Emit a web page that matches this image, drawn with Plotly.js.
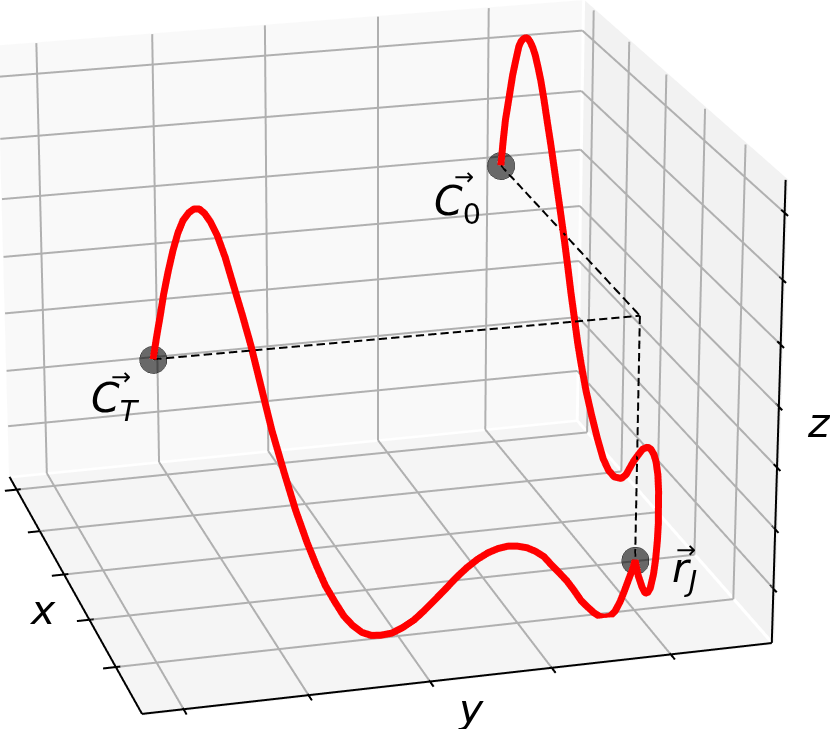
<!DOCTYPE html>
<html><head><meta charset="utf-8">
<script src="https://cdn.plot.ly/plotly-3.0.1.min.js"></script>
<style>html,body{margin:0;padding:0;width:830px;height:729px;overflow:hidden;background:#fff}
#gd{position:absolute}</style></head>
<body><div id="gd"></div>
<script>
const seg1Y=[.064,.067,.071,.076,.082,.089,.097,.105,.113,.122,.130,.138,.146,.155,.165,.177,.189,.202,.215,.230,.247,.266,.283,.301,.316,.330,.345,.359,.373,.388,.403,.418,.436,.454,.472,.488,.504,.520,.538,.556,.574,.591,.607,.623,.638,.654,.668,.682,.693,.706,.719,.731,.744,.755,.765,.775,.783,.792,.800,.808,.815,.823,.828,.8316];
const seg1Z=[.662,.685,.716,.752,.798,.842,.886,.922,.947,.962,.969,.968,.958,.939,.910,.862,.803,.740,.673,.585,.485,.390,.309,.235,.181,.135,.097,.064,.041,.023,.014,.012,.014,.024,.038,.056,.076,.096,.120,.141,.158,.170,.177,.180,.178,.172,.162,.148,.130,.110,.090,.067,.040,.024,.010,.000,-.003,-.002,.008,.028,.052,.082,.100,.118];
const seg2X=[.847,.866,.880,.892,.906,.920,.929,.935,.938,.937,.936,.931,.921,.910,.895,.879,.856,.836,.813,.795,.778,.754,.719,.690,.662,.630,.597,.568,.543,.521,.502,.482,.464,.444,.424,.404,.383,.364,.344,.325,.307,.291,.275,.261,.247,.234,.221,.208,.196,.184,.168,.151,.133,.113,.101,.089];
const seg2Z=[.0922,.0777,.0724,.0773,.0964,.1347,.1742,.2157,.2553,.2898,.3264,.36,.3834,.3938,.398,.3942,.3783,.3563,.3302,.306,.283,.262,.248,.248,.26,.291,.33,.3684,.4114,.4544,.5014,.5494,.5983,.65,.697,.743,.791,.834,.876,.917,.952,.976,.997,1.009,1.016,1.019,1.016,1.008,.998,.982,.945,.904,.848,.787,.733,.671];
const planeX=.83, planeY=.8316;
const pointX=[.089,.83,.83], pointY=[.8316,.064,.8316], pointZ=[.671,.662,.118];
const cornerX=.83, cornerY=.8316, cornerZ=.657;
const xTicks=[.06,.25,.44,.63,.82], yTicks=[.064,.258,.449,.643,.835], zTicks=[.121,.252,.387,.5185,.652,.79,.931];

const curveX=seg1Y.map(()=>planeX).concat(seg2X), curveY=seg1Y.concat(seg2X.map(()=>planeY)), curveZ=seg1Z.concat(seg2Z);
const W=1000,H=4096,CX=375,CY=336.5,L=CX-W/2,T=CY-H/2,PAD=.03,ZA=.755,DIST=7.86;
const gd=document.getElementById('gd');gd.style.left=L+'px';gd.style.top=T+'px';
const ann=(t,px,py,size)=>({text:t,xref:'paper',yref:'paper',x:(px-L)/W,y:1-(py-T)/H,showarrow:false,xanchor:'center',yanchor:'middle',
  font:{family:'DejaVu Sans',size:size,color:'#000'}});
const hid={range:[-PAD,1+PAD],autorange:false,showticklabels:false,ticks:'',showline:false,showgrid:false,zeroline:false,showspikes:false,showbackground:false,title:{text:''}};
function segs(list){const x=[],y=[],z=[];list.forEach(s=>{x.push(s[0],s[3],null);y.push(s[1],s[4],null);z.push(s[2],s[5],null)});return {x,y,z}}
const line=(list,color,width)=>Object.assign({type:'scatter3d',mode:'lines',line:{color,width},showlegend:false,hoverinfo:'skip',connectgaps:false},segs(list));
const pane=(x,y,z,color)=>({type:'mesh3d',x,y,z,i:[0,0],j:[1,2],k:[2,3],color,opacity:1,showscale:false,hoverinfo:'skip',flatshading:true,
  lighting:{ambient:1,diffuse:0,specular:0,roughness:1,fresnel:0}});
const e=.004;
const grid=[];
yTicks.forEach(t=>{grid.push([0,t,0,0,t,1],[0,t,0,1,t,0])});
zTicks.forEach(t=>{grid.push([0,0,t,0,1,t],[0,1,t,1,1,t])});
xTicks.forEach(t=>{grid.push([t,1,0,t,1,1],[t,0,0,t,1,0])});
const spines=[[0,0,0,1,0,0],[1,0,0,1,1,0],[1,1,0,1,1,1]];
xTicks.forEach(t=>spines.push([t,-.02,0,t,.007,0]));
yTicks.forEach(t=>spines.push([1-.005,t,0,1+.02,t,0]));
zTicks.forEach(t=>spines.push([1-.015,1,t,1+.015,1,t]));
function dashes(p,q,on,off){const out=[];const d=[q[0]-p[0],q[1]-p[1],q[2]-p[2]];const n=Math.hypot(d[0],d[1],d[2]);
 for(let s=0;s<n;s+=on+off){const a=s/n,b=Math.min(1,(s+on)/n);out.push([p[0]+d[0]*a,p[1]+d[1]*a,p[2]+d[2]*a,p[0]+d[0]*b,p[1]+d[1]*b,p[2]+d[2]*b])}return out}
const P=[cornerX,cornerY,cornerZ],C0=[pointX[0],pointY[0],pointZ[0]],CT=[pointX[1],pointY[1],pointZ[1]],RJ=[pointX[2],pointY[2],pointZ[2]];
const guides=[...dashes(C0,P,.031,.016),...dashes(CT,P,.013,.0065),...dashes(P,RJ,.018,.009)];
const data=[
 pane([-e,-e,-e,-e],[0,1,1,0],[0,0,1,1],'#f9f9f9'),
 pane([0,1,1,0],[1+e,1+e,1+e,1+e],[0,0,1,1],'#f2f2f2'),
 pane([0,1,1,0],[0,0,1,1],[-e,-e,-e,-e],'#f5f5f5'),
 line(grid,'#b0b0b0',4),
 line(spines,'#000',4),
 line(guides,'#000',4),
 {type:'scatter3d',mode:'lines',x:curveX,y:curveY,z:curveZ,line:{color:'#ff0000',width:14},showlegend:false,hoverinfo:'skip'},
 {type:'scatter3d',mode:'markers',x:pointX,y:pointY,z:pointZ,marker:{size:16,color:'rgba(0,0,0,0.58)',line:{width:1,color:'rgba(0,0,0,.7)'}},showlegend:false,hoverinfo:'skip'}
];
const s=1+2*PAD;
const layout={width:W,height:H,margin:{l:0,r:0,t:0,b:0},paper_bgcolor:'#fff',showlegend:false,
 scene:{domain:{x:[0,1],y:[0,1]},aspectmode:'manual',aspectratio:{x:s,y:s,z:ZA*s},
  camera:{eye:{x:DIST*.9060,y:-DIST*.2496,z:DIST*.342},center:{x:0,y:0,z:0},up:{x:0,y:0,z:1},projection:{type:'perspective'}},
  xaxis:hid,yaxis:hid,zaxis:hid},
 annotations:[
  ann('<i>x</i>',42,609,41),ann('<i>y</i>',470,708,41),ann('<i>z</i>',819,422,41),
  ann('<i>C</i><sub>0</sub>',457,203,41),ann('→',464,176,24),
  ann('<i>C</i><sub><i>T</i></sub>',115,400,41),ann('→',121,376,24),
  ann('<i>r</i><sub><i>J</i></sub>',684,570,41),ann('→',686,549,24)
 ]};
Plotly.newPlot(gd,data,layout,{displayModeBar:false,responsive:false});
</script></body></html>
